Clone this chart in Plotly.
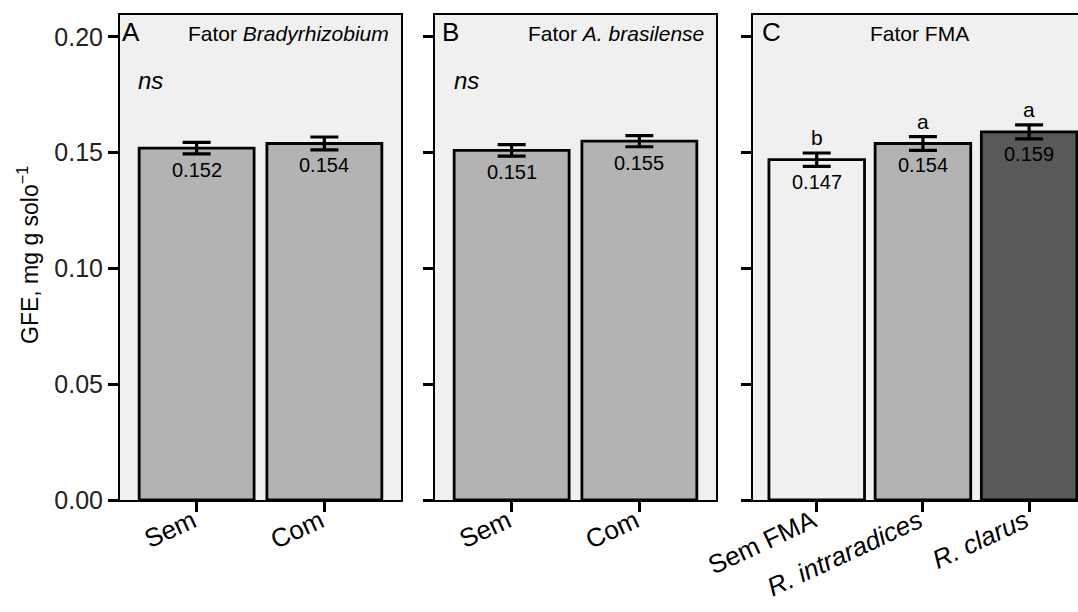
import plotly.graph_objects as go

# Panel A: Bradyrhizobium factor
brady_cats = ["Sem", "Com"]
brady_vals = [0.152, 0.154]
brady_err = [0.0025, 0.0028]

# Panel B: A. brasilense factor
azo_cats = ["Sem", "Com"]
azo_vals = [0.151, 0.155]
azo_err = [0.0025, 0.0024]

# Panel C: FMA factor
fma_cats = ["Sem FMA", "<i>R. intraradices</i>", "<i>R. clarus</i>"]
fma_vals = [0.147, 0.154, 0.159]
fma_err = [0.0029, 0.0030, 0.0030]
fma_letters = ["b", "a", "a"]

y_ticks = [0.00, 0.05, 0.10, 0.15, 0.20]

W, H = 1078, 612
FONT = "Liberation Sans, Arial, sans-serif"
PANEL_BG = "#f0f0f0"
GREY = "#b3b3b3"

def px_x(p):
    return p / W

def px_y(p):
    return 1 - p / H

y_dom = [px_y(500), px_y(15)]
domains = [
    [px_x(120), px_x(401)],
    [px_x(435), px_x(716)],
    [px_x(753), 1.0],
]

panels = [
    (brady_cats, brady_vals, brady_err, [GREY, GREY]),
    (azo_cats, azo_vals, azo_err, [GREY, GREY]),
    (fma_cats, fma_vals, fma_err, [PANEL_BG, GREY, "#595959"]),
]

fig = go.Figure()
annotations = []

for i, (cats, vals, errs, colors) in enumerate(panels):
    n = i + 1
    xa = "x" if n == 1 else f"x{n}"
    ya = "y" if n == 1 else f"y{n}"
    fig.add_trace(go.Bar(
        x=cats, y=vals, xaxis=xa, yaxis=ya, width=0.9,
        marker=dict(color=colors, line=dict(color="black", width=2.8)),
        error_y=dict(type="data", array=errs, visible=True,
                     color="black", thickness=3.2, width=14),
        showlegend=False, hoverinfo="skip",
    ))
    for c, v in zip(cats, vals):
        annotations.append(dict(
            x=c, y=v, xref=xa, yref=ya, text=f"{v:.3f}", showarrow=False,
            yanchor="middle", yshift=-22,
            font=dict(family=FONT, size=20, color="black"),
        ))

    xrange = [-0.6, len(cats) - 0.4] if n < 3 else [-0.6, 2.46]
    fig.update_layout(**{
        ("xaxis" if n == 1 else f"xaxis{n}"): dict(
            domain=domains[i], anchor=ya, type="category",
            categoryorder="array", categoryarray=cats,
            range=xrange, showline=True, linecolor="black", linewidth=2,
            mirror=True, ticks="outside", ticklen=10, tickwidth=2.5,
            tickcolor="black", tickangle=-25, showgrid=False, zeroline=False,
            automargin=False, ticklabelstandoff=-16, ticklabelshift=-4,
            tickfont=dict(family=FONT, size=26, color="black"),
        ),
        ("yaxis" if n == 1 else f"yaxis{n}"): dict(
            domain=y_dom, anchor=xa, range=[0, 0.2095],
            tickvals=y_ticks, ticktext=[f"{t:.2f}" for t in y_ticks],
            showticklabels=(n == 1), showline=True, linecolor="black",
            linewidth=2, mirror=True, ticks="outside", ticklen=10,
            tickwidth=2.5, tickcolor="black", showgrid=False, zeroline=False,
            automargin=False,
            tickfont=dict(family=FONT, size=25, color="#222222"),
        ),
    })

# Significance letters for FMA factor
for c, v, e, l in zip(fma_cats, fma_vals, fma_err, fma_letters):
    annotations.append(dict(
        x=c, y=v + e, xref="x3", yref="y3", text=l, showarrow=False,
        yanchor="middle", yshift=15,
        font=dict(family=FONT, size=21, color="black"),
    ))

def paper_text(xp, yp, text, size, xanchor="left"):
    annotations.append(dict(
        x=px_x(xp), y=px_y(yp), xref="paper", yref="paper", text=text,
        showarrow=False, xanchor=xanchor, yanchor="middle",
        borderpad=0,
        font=dict(family=FONT, size=size, color="black"),
    ))

# Panel tags, titles and "ns"
paper_text(121, 32, "A", 26)
paper_text(441, 32, "B", 26)
paper_text(761, 32, "C", 26)
paper_text(390, 33, "Fator <i>Bradyrhizobium</i>", 21, "right")
paper_text(705, 33, "Fator <i>A. brasilense</i>", 21, "right")
paper_text(919, 33, "Fator FMA", 21, "center")
paper_text(137, 81, "<i>ns</i>", 24)
paper_text(453, 81, "<i>ns</i>", 24)

# Y axis title
annotations.append(dict(
    x=px_x(28), y=px_y(255), xref="paper", yref="paper",
    text="GFE, mg g solo<sup>−1</sup>", textangle=-90, showarrow=False,
    xanchor="center", yanchor="middle",
    font=dict(family=FONT, size=23, color="black"),
))

fig.update_layout(
    width=W, height=H, margin=dict(l=0, r=0, t=0, b=0),
    paper_bgcolor="white", plot_bgcolor=PANEL_BG,
    annotations=annotations, bargap=0.1,
)

fig.write_html("out.html")
